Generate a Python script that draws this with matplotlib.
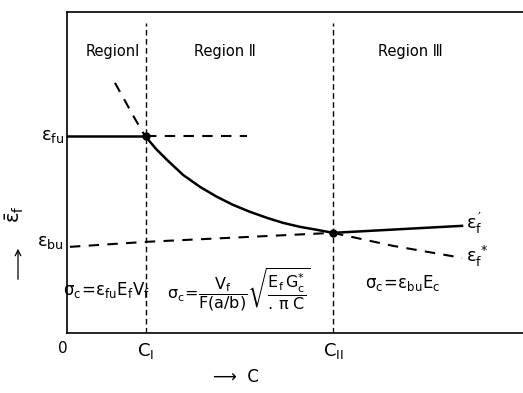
import matplotlib.pyplot as plt

plt.rcParams['mathtext.default'] = 'regular'

# values (arbitrary units, c along x, strain along y)
c_I = 79
c_II = 266
eps_fu = 197

bu_c = [3, 79, 266]
bu_eps = [86, 91, 100]

curve_c = [78, 89, 100, 116, 133, 150, 166, 183, 200, 216, 233, 250, 266]
curve_eps = [197, 184, 173, 158, 146, 136, 128, 121, 115, 110, 106, 103, 100]

ext_c = [48, 58, 68, 78]
ext_eps = [250, 232, 214, 197]

star_c = [266, 326, 395]
star_eps = [100, 87, 75]

prime_c = [266, 395]
prime_eps = [100, 107]

fu_dash_c = [79, 180]

fig = plt.figure(figsize=(5.23, 3.93), dpi=100)
ax = fig.add_axes([0.128, 0.153, 0.872, 0.817])
ax.set_xlim(0, 456)
ax.set_ylim(0, 321)

k = 'black'
ax.plot([0, c_I], [eps_fu, eps_fu], color=k, lw=1.8)
ax.plot(fu_dash_c, [eps_fu, eps_fu], color=k, lw=1.5, dashes=(5, 4))
ax.plot(bu_c, bu_eps, color=k, lw=1.5, dashes=(5, 4))
ax.plot(curve_c, curve_eps, color=k, lw=1.8)
ax.plot(ext_c, ext_eps, color=k, lw=1.5, dashes=(5, 4))
ax.plot(star_c, star_eps, color=k, lw=1.5, dashes=(5, 4))
ax.plot(prime_c, prime_eps, color=k, lw=1.8)
for c in (c_I, c_II):
    ax.plot([c, c], [0, 310], color=k, lw=1.0, dashes=(4, 2.5))
ax.plot([c_I, c_II], [eps_fu, 100], 'o', color=k, ms=5)

ax.spines['right'].set_visible(False)
for s in ('left', 'top', 'bottom'):
    ax.spines[s].set_linewidth(1.2)
ax.set_xticks([])
ax.set_yticks([])

fs = 10.5
ax.text(46, 281, 'RegionⅠ', ha='center', va='center', fontsize=fs)
ax.text(158, 281, 'Region Ⅱ', ha='center', va='center', fontsize=fs)
ax.text(343, 281, 'Region Ⅲ', ha='center', va='center', fontsize=fs)

ax.text(-3, eps_fu, r'$\epsilon_{fu}$', ha='right', va='center', fontsize=13)
ax.text(-3, 91, r'$\epsilon_{bu}$', ha='right', va='center', fontsize=13)
ax.text(399, 109, r"$\epsilon_f^{\,\prime}$", ha='left', va='center', fontsize=13)
ax.text(399, 76, r'$\epsilon_f^{\,*}$', ha='left', va='center', fontsize=13)

ax.text(40, 43, r'$\sigma_c\!=\!\epsilon_{fu}E_fV_f$', ha='center', va='center', fontsize=12)
ax.text(172, 43, r'$\sigma_c\!=\!\dfrac{V_f}{F(a/b)}\sqrt{\dfrac{E_f\,G_c^{*}}{.\,\pi\;C}}$',
        ha='center', va='center', fontsize=11.5)
ax.text(336, 50, r'$\sigma_c\!=\!\epsilon_{bu}E_c$', ha='center', va='center', fontsize=12)

ax.text(-4, -8, '0', ha='center', va='top', fontsize=11)
ax.text(c_I, -8, r'$C_{I}$', ha='center', va='top', fontsize=13)
ax.text(c_II, -8, r'$C_{II}$', ha='center', va='top', fontsize=13)

fig.text(236 / 523, 1 - 377 / 393, '⟶  C', ha='center', va='center', fontsize=12)
fig.text(15 / 523, 1 - 214 / 393, r'$\bar{\epsilon}_f$', rotation=90,
         ha='center', va='center', fontsize=14)
ax.annotate('', xy=(18 / 523, 1 - 246 / 393), xytext=(18 / 523, 1 - 282 / 393),
            xycoords='figure fraction', textcoords='figure fraction',
            annotation_clip=False,
            arrowprops=dict(arrowstyle='->', color=k, lw=0.9))

fig.savefig('out.png', dpi=100)
